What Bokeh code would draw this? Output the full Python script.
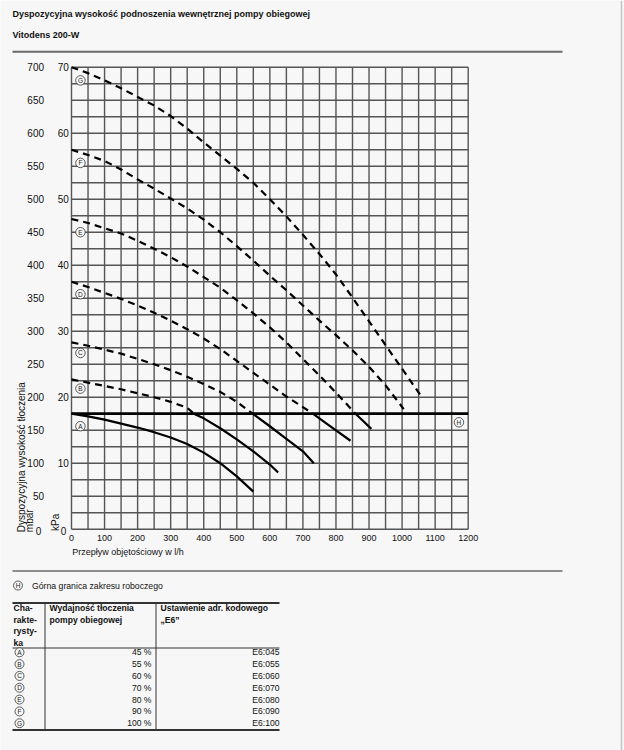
import math
from bokeh.plotting import figure
from bokeh.models import Range1d
from bokeh.embed import file_html
from bokeh.resources import INLINE
from bokeh.core.properties import value

# ---------------- data ----------------
TITLE = "Dyspozycyjna wysokość podnoszenia wewnętrznej pompy obiegowej"
SUBTITLE = "Vitodens 200-W"
X_LABEL = "Przepływ objętościowy w l/h"
Y_LABEL_1 = "Dyspozycyjna wysokość tłoczenia"
Y_LABEL_2 = "mbar"
Y_LABEL_KPA = "kPa"
H_NOTE = "Górna granica zakresu roboczego"

x_ticks = [0, 100, 200, 300, 400, 500, 600, 700, 800, 900, 1000, 1100, 1200]
kpa_ticks = [0, 10, 20, 30, 40, 50, 60, 70]
mbar_ticks = [0, 50, 100, 150, 200, 250, 300, 350, 400, 450, 500, 550, 600, 650, 700]
grid_flow = [0, 50, 100, 150, 200, 250, 300, 350, 400, 450, 500, 550, 600,
             650, 700, 750, 800, 850, 900, 950, 1000, 1050, 1100, 1150, 1200]
grid_kpa = [0, 2.5, 5, 7.5, 10, 12.5, 15, 17.5, 20, 22.5, 25, 27.5, 30, 32.5, 35,
            37.5, 40, 42.5, 45, 47.5, 50, 52.5, 55, 57.5, 60, 62.5, 65, 67.5, 70]

h_limit_kpa = 17.5
h_limit_flow = [0, 1200]

flow_A = [0, 50, 100, 150, 200, 250, 300, 350, 400, 450, 500, 550]
kpa_A = [17.5, 17.1, 16.6, 16.0, 15.4, 14.7, 13.9, 12.9, 11.6, 10.0, 8.0, 5.7]

flow_B = [0, 50, 100, 150, 200, 250, 300, 350, 370, 400, 450, 500, 550, 600, 625]
kpa_B = [22.7, 22.2, 21.7, 21.2, 20.6, 20.0, 19.3, 18.4, 17.5, 16.8, 15.3, 13.6, 11.8, 9.8, 8.6]

flow_C = [0, 50, 100, 150, 200, 250, 300, 350, 400, 450, 500, 548, 600, 650, 700, 733]
kpa_C = [28.3, 27.8, 27.2, 26.6, 25.8, 25.0, 24.1, 23.1, 22.0, 20.8, 19.3, 17.5, 15.6, 13.7, 11.8, 10.0]

flow_D = [0, 50, 100, 150, 200, 250, 300, 350, 400, 450, 500, 550, 600, 650, 700, 730, 780, 844]
kpa_D = [37.5, 36.7, 35.8, 34.9, 33.9, 32.8, 31.6, 30.3, 28.9, 27.3, 25.5, 23.7, 21.9, 20.1, 18.5, 17.5, 15.7, 13.4]

flow_E = [0, 50, 100, 150, 200, 250, 300, 350, 400, 450, 500, 550, 600, 650, 700, 750, 800, 859, 880, 907]
kpa_E = [47.0, 46.4, 45.6, 44.8, 43.7, 42.5, 41.2, 39.8, 38.2, 36.6, 34.7, 32.7, 30.6, 28.3, 25.8, 23.3, 20.7, 17.5, 16.5, 15.2]

flow_F = [0, 50, 100, 150, 200, 250, 300, 350, 400, 450, 500, 550, 600, 650, 700, 750, 800, 850, 900, 950, 1005]
kpa_F = [57.5, 56.7, 55.8, 54.5, 53.0, 51.6, 50.1, 48.6, 46.9, 45.0, 42.9, 40.7, 38.4, 36.2, 33.9, 31.6, 29.4, 27.1, 24.6, 21.8, 18.2]

flow_G = [0, 50, 100, 150, 200, 250, 300, 350, 400, 450, 500, 550, 600, 650, 700, 750, 800, 850, 900, 950, 1000, 1060]
kpa_G = [70.0, 69.1, 68.0, 66.8, 65.5, 64.2, 62.6, 60.7, 58.6, 56.6, 54.6, 52.5, 50.0, 47.4, 44.6, 41.7, 38.6, 35.1, 31.5, 27.9, 24.3, 20.0]

curve_names = ["A", "B", "C", "D", "E", "F", "G"]
curve_flows = [flow_A, flow_B, flow_C, flow_D, flow_E, flow_F, flow_G]
curve_kpas = [kpa_A, kpa_B, kpa_C, kpa_D, kpa_E, kpa_F, kpa_G]

table_header_1 = ["Cha-", "rakte-", "rysty-", "ka"]
table_header_2 = ["Wydajność tłoczenia", "pompy obiegowej"]
table_header_3 = ["Ustawienie adr. kodowego", "„E6”"]
table_percent = ["45 %", "55 %", "60 %", "70 %", "80 %", "90 %", "100 %"]
table_code = ["E6:045", "E6:055", "E6:060", "E6:070", "E6:080", "E6:090", "E6:100"]

# ---------------- styles / layout ----------------
FONT = "Liberation Sans"
BG = "#f7f7f7"
GRID = "#555555"
INK = "#111111"
PAGE_W, PAGE_H = 624, 750

# where the chart area sits on the page (pixels)
PLOT_LEFT, PLOT_RIGHT = 71.0, 467.7
PLOT_TOP, PLOT_BOTTOM = 66.7, 528.7
FLOW_MAX, KPA_MAX = 1200.0, 70.0
sx = (PLOT_RIGHT - PLOT_LEFT) / FLOW_MAX
sy = (PLOT_BOTTOM - PLOT_TOP) / KPA_MAX

x_rng = Range1d(-PLOT_LEFT / sx, (PAGE_W - PLOT_LEFT) / sx)
y_rng = Range1d((PLOT_BOTTOM - PAGE_H) / sy, PLOT_BOTTOM / sy)

p = figure(width=PAGE_W, height=PAGE_H, x_range=x_rng, y_range=y_rng,
           output_backend="svg", toolbar_location=None, min_border=0,
           x_axis_location=None, y_axis_location=None,
           background_fill_color=BG, border_fill_color=BG)
p.outline_line_color = None
p.xgrid.visible = False
p.ygrid.visible = False
p.extra_x_ranges = {"px": Range1d(0, PAGE_W)}
p.extra_y_ranges = {"py": Range1d(PAGE_H, 0),
                    "mbar": Range1d(10 * y_rng.start, 10 * y_rng.end)}

TXT = dict(text_font=value(FONT), text_color=INK)
PY = dict(x_range_name="px", y_range_name="py")

# ---------------- header ----------------
p.text(x=[12], y=[13.5], text=[TITLE], text_font_style="bold", text_font_size="9px",
       text_baseline="middle", **PY, **TXT)
p.text(x=[12], y=[34], text=[SUBTITLE], text_font_style="bold", text_font_size="9px",
       text_baseline="middle", **PY, **TXT)
p.line([12, 562], [51.3, 51.3], line_width=2, line_color="#6a6a6a", **PY)
p.line([621, 621], [0, PAGE_H], line_width=1.5, line_color="#c4c4c4", **PY)

# ---------------- chart grid ----------------
n_gx, n_gy = len(grid_flow), len(grid_kpa)
p.segment(x0=grid_flow, y0=[grid_kpa[0]] * n_gx, x1=grid_flow, y1=[grid_kpa[-1]] * n_gx,
          line_color=GRID, line_width=1.4)
p.segment(x0=[grid_flow[0]] * n_gy, y0=grid_kpa, x1=[grid_flow[-1]] * n_gy, y1=grid_kpa,
          line_color=GRID, line_width=1.4)

# tick labels (x: flow, y: kPa and mbar)
p.text(x=x_ticks, y=[537.5] * len(x_ticks), text=[str(t) for t in x_ticks],
       text_font_size="9px", text_align="center", text_baseline="middle",
       y_range_name="py", **TXT)
p.text(x=[68.3] * (len(kpa_ticks) - 1), y=kpa_ticks[1:], text=[str(t) for t in kpa_ticks[1:]],
       text_font_size="10px", text_align="right", text_baseline="middle",
       x_range_name="px", **TXT)
p.text(x=[65.7], y=[kpa_ticks[0] - 0.2], text=[str(kpa_ticks[0])],
       text_font_size="10px", text_align="right", text_baseline="middle",
       x_range_name="px", **TXT)
p.text(x=[43.5] * (len(mbar_ticks) - 1), y=mbar_ticks[1:], text=[str(t) for t in mbar_ticks[1:]],
       text_font_size="10px", text_align="right", text_baseline="middle",
       x_range_name="px", y_range_name="mbar", **TXT)
p.text(x=[40.8], y=[mbar_ticks[0] - 2], text=[str(mbar_ticks[0])],
       text_font_size="10px", text_align="right", text_baseline="middle",
       x_range_name="px", y_range_name="mbar", **TXT)

# axis titles
p.text(x=[71.7], y=[551.7], text=[X_LABEL], text_font_size="9px", text_baseline="middle",
       **PY, **TXT)
p.text(x=[55], y=[530.5], text=[Y_LABEL_KPA], angle=math.pi / 2, text_font_size="10px",
       text_align="left", text_baseline="middle", **PY, **TXT)
p.text(x=[20.7], y=[531.7], text=[Y_LABEL_1], angle=math.pi / 2, text_font_size="10px",
       text_align="left", text_baseline="middle", **PY, **TXT)
p.text(x=[28.6], y=[531.7], text=[Y_LABEL_2], angle=math.pi / 2, text_font_size="10px",
       text_align="left", text_baseline="middle", **PY, **TXT)

# ---------------- curves ----------------
p.line(h_limit_flow, [h_limit_kpa, h_limit_kpa], line_color="black", line_width=2.8)

for flows, vals in zip(curve_flows, curve_kpas):
    up = [(f, v) for f, v in zip(flows, vals) if v >= h_limit_kpa]
    dn = [(f, v) for f, v in zip(flows, vals) if v <= h_limit_kpa]
    if len(up) > 1:
        p.line([a for a, b in up], [b for a, b in up], line_color="black", line_width=2.2,
               line_dash="7 5", line_join="round")
    if len(dn) > 1:
        p.line([a for a, b in dn], [b for a, b in dn], line_color="black", line_width=2.2,
               line_join="round")

# circled letters on the curves
letter_x = 27
letter_y = {"A": 15.6, "B": 21.3, "C": 26.7, "D": 35.6, "E": 45.0, "F": 55.5, "G": 68.0}
h_letter_pos = (1172, 16.2)
cx = [letter_x] * len(curve_names) + [h_letter_pos[0]]
cy = [letter_y[n] for n in curve_names] + [h_letter_pos[1]]
ct = curve_names + ["H"]
p.scatter(cx, cy, marker="circle", size=9.5, fill_color=BG, line_color="#333333", line_width=0.8)
p.text(cx, cy, text=ct, text_font=value(FONT), text_font_size="6.5px",
       text_align="center", text_baseline="middle", text_color="#222222")

# ---------------- footer / table ----------------
p.line([12, 562], [570.5, 570.5], line_width=1.5, line_color="#6a6a6a", **PY)
p.scatter([17.5], [585], marker="circle", size=9, fill_color=BG, line_color="#333333",
          line_width=0.8, **PY)
p.text([17.5], [585], text=["H"], text_font=value(FONT), text_font_size="6.5px",
       text_align="center", text_baseline="middle", text_color="#222222", **PY)
p.text([31.5], [585], text=[H_NOTE], text_font_size="8.7px", text_baseline="middle", **PY, **TXT)

p.line([12, 279], [602.5, 602.5], line_width=2, line_color="#333333", **PY)
p.line([12, 279], [647.5, 647.5], line_width=1, line_color="#333333", **PY)
p.line([12, 279], [729.5, 729.5], line_width=2, line_color="#333333", **PY)
p.line([44.5, 44.5], [602.5, 729.5], line_width=1, line_color="#333333", **PY)
p.line([155.5, 155.5], [602.5, 729.5], line_width=1, line_color="#333333", **PY)

hy = [607.5 + 11.6 * i for i in range(4)]
p.text([13] * 4, hy, text=table_header_1, text_font_style="bold", text_font_size="8.6px",
       text_baseline="middle", **PY, **TXT)
p.text([49] * 2, hy[:2], text=table_header_2, text_font_style="bold", text_font_size="8.6px",
       text_baseline="middle", **PY, **TXT)
p.text([160] * 2, hy[:2], text=table_header_3, text_font_style="bold", text_font_size="8.6px",
       text_baseline="middle", **PY, **TXT)

ry = [651.8 + 11.82 * i for i in range(len(table_percent))]
p.scatter([19] * len(ry), ry, marker="circle", size=9, fill_color=BG, line_color="#333333",
          line_width=0.8, **PY)
p.text([19] * len(ry), ry, text=curve_names, text_font=value(FONT), text_font_size="6.5px",
       text_align="center", text_baseline="middle", text_color="#222222", **PY)
p.text([151] * len(ry), ry, text=table_percent, text_font_size="8.6px",
       text_align="right", text_baseline="middle", **PY, **TXT)
p.text([279] * len(ry), ry, text=table_code, text_font_size="8.6px",
       text_align="right", text_baseline="middle", **PY, **TXT)

open("out.html", "w").write(file_html(p, INLINE))
